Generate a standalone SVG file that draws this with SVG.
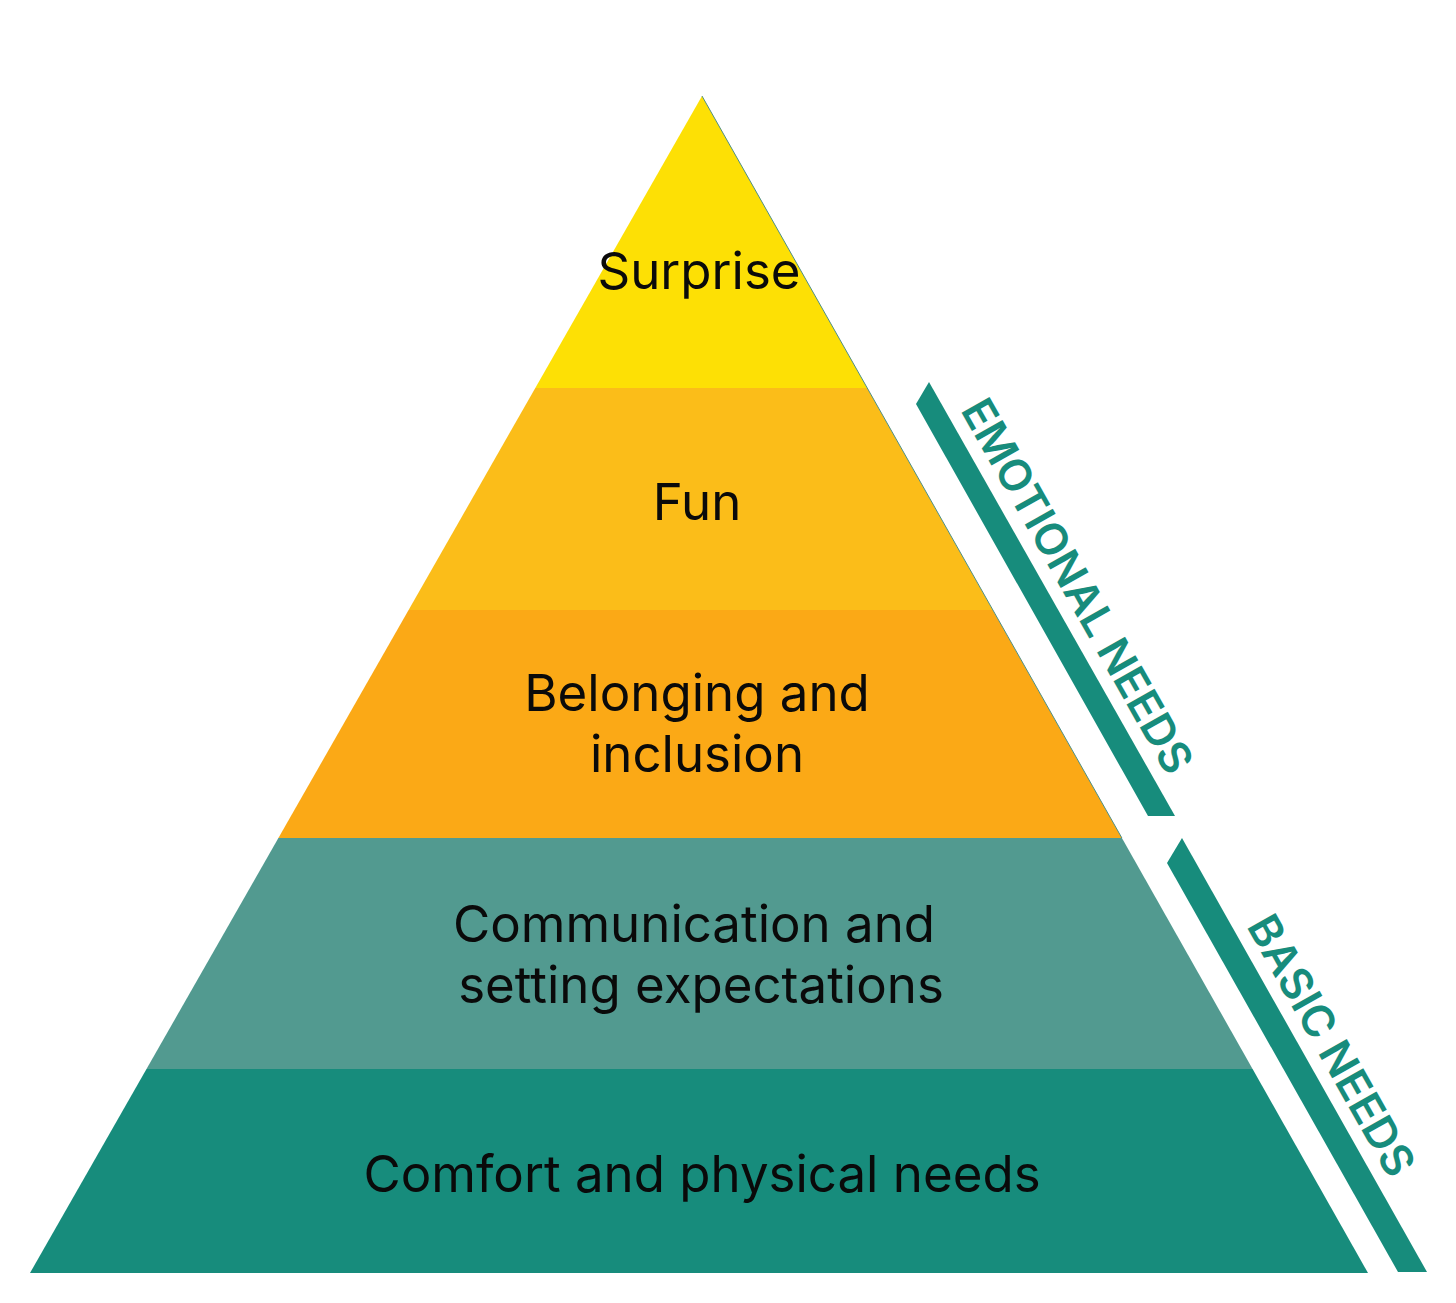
<svg xmlns="http://www.w3.org/2000/svg" width="1456" height="1303" viewBox="0 0 1456 1303">
  <style>
    .lbl { font-family: Inter, "Liberation Sans", Arial, sans-serif; font-size: 51px; fill: #0a0a0a; text-anchor: middle; }
    .side { font-family: Inter, "Liberation Sans", Arial, sans-serif; font-size: 44px; font-weight: 600; fill: #178C7C; }
    .bar { fill: #178C7C; }
  </style>
  <rect width="1456" height="1303" fill="#ffffff"/>
  <g id="layer-surprise">
    <polygon points="702,96 867.2,388 535.3,388" fill="#FDE005"/>
    <text class="lbl" x="699" y="289">Surprise</text>
  </g>
  <g id="layer-fun">
    <polygon points="535.3,388 867.2,388 992.8,610 408.6,610" fill="#FBBD19"/>
    <text class="lbl" x="697" y="520">Fun</text>
  </g>
  <g id="layer-belonging">
    <polygon points="408.6,610 992.8,610 1121.9,838 278.4,838" fill="#FBA916"/>
    <text class="lbl" x="697" y="711">Belonging and</text>
    <text class="lbl" x="697" y="772">inclusion</text>
  </g>
  <g id="layer-communication">
    <polygon points="278.4,838 1121.9,838 1252.6,1069 146.5,1069" fill="#529A90"/>
    <text class="lbl" x="694" y="942">Communication and</text>
    <text class="lbl" x="701" y="1003">setting expectations</text>
  </g>
  <g id="layer-comfort">
    <polygon points="146.5,1069 1252.6,1069 1368,1273 30,1273" fill="#178C7C"/>
    <text class="lbl" x="702" y="1192">Comfort and physical needs</text>
  </g>
  <g id="connectors">
    <line x1="702" y1="96" x2="1121.9" y2="838" stroke="#4E8F86" stroke-width="1"/>
  </g>
  <g id="emotional-needs">
    <polygon class="bar" points="916,404 929,382 1175,816 1148,816"/>
    <text class="side" transform="translate(960,410) rotate(60.5)" textLength="422" lengthAdjust="spacingAndGlyphs">EMOTIONAL NEEDS</text>
  </g>
  <g id="basic-needs">
    <polygon class="bar" points="1167,863 1182,838 1427,1272 1398,1272"/>
    <text class="side" transform="translate(1246,926) rotate(60.5)" textLength="292" lengthAdjust="spacingAndGlyphs">BASIC NEEDS</text>
  </g>
</svg>
